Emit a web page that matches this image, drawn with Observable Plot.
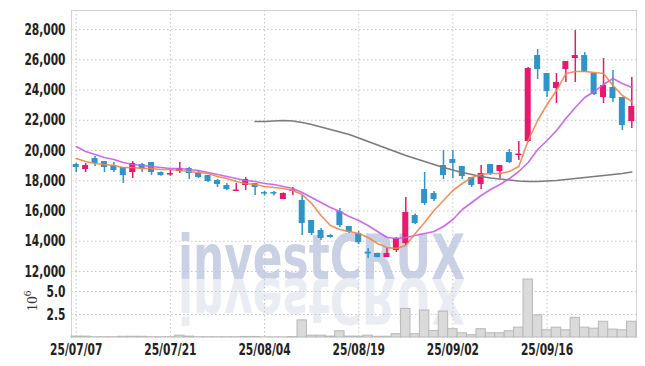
<!DOCTYPE html>
<html><head><meta charset="utf-8">
<script src="https://cdn.jsdelivr.net/npm/d3@7"></script>
<script src="https://cdn.jsdelivr.net/npm/@observablehq/plot@0.6"></script>
<style>
body{margin:0;background:#fff;}
#wrap{position:relative;width:645px;height:366px;}
#wrap svg{position:absolute;left:0;top:0;}
</style></head><body><div id="wrap"></div>
<script>
const dates = ["25/07/07","25/07/08","25/07/09","25/07/10","25/07/11","25/07/14","25/07/15","25/07/16","25/07/17","25/07/18",
"25/07/21","25/07/22","25/07/23","25/07/24","25/07/25","25/07/28","25/07/29","25/07/30","25/07/31","25/08/01",
"25/08/04","25/08/05","25/08/06","25/08/07","25/08/08","25/08/11","25/08/12","25/08/13","25/08/14","25/08/18",
"25/08/19","25/08/20","25/08/21","25/08/22","25/08/25","25/08/26","25/08/27","25/08/28","25/08/29","25/09/01",
"25/09/02","25/09/03","25/09/04","25/09/05","25/09/08","25/09/09","25/09/10","25/09/11","25/09/12","25/09/15",
"25/09/16","25/09/17","25/09/18","25/09/19","25/09/22","25/09/23","25/09/24","25/09/25","25/09/26","25/09/29"];
const opens = [19075,18744,19472,19273,19009,18876,18546,19075,19207,18546,18380,18612,18810,18480,18348,18017,17686,17290,17686,17819,
17220,17220,16761,17290,16695,15372,14711,14380,15967,14975,14513,13280,13190,12926,13389,13851,15703,17422,17157,19009,
19405,18943,18215,17752,19075,18612,19868,19670,20596,26282,25092,24100,25356,26084,26282,25092,23505,24166,23505,21918];
const highs = [19141,19141,19604,19273,19207,18876,19273,19141,19207,18580,18750,19207,18876,18678,18348,18083,17819,17819,18215,17819,
17290,17290,17200,17554,17025,15372,14843,14450,16166,14975,14645,13521,13220,13521,14248,16893,15800,18546,17290,20000,
20000,18943,18215,19009,19075,19009,20067,20596,25488,26679,25092,25092,25885,27934,26480,25092,26084,25290,23505,24827];
const lows = [18546,18546,18943,18546,18546,17819,18149,18546,18348,18300,18300,18480,18083,18149,17885,17554,17356,17290,17356,17025,
16990,16990,16761,17025,14380,14380,14050,14200,14909,14513,13785,12860,12900,12926,13256,13719,15100,16364,16628,18083,
18149,18083,17554,17422,18348,18149,19141,19339,20529,24695,23505,23108,24497,24497,25158,23637,23108,23174,21323,21455];
const closes = [18876,19009,19141,18876,18678,18348,19141,18810,18546,18348,18480,18810,18480,18215,17951,17752,17422,17390,18083,17554,
17120,17120,17157,17390,15174,14513,14182,14250,15042,14579,13917,13160,12926,13190,14182,15901,15174,16496,16761,18348,
19141,18281,17686,18480,18480,19009,19207,19770,25422,25356,23902,24497,25885,26282,25158,23703,24298,23439,21654,22910];
const volumes = [0.1,0.1,0.03,0.03,0.03,0.08,0.08,0.08,0.03,0.03,0.03,0.2,0.1,0.03,0.03,0.03,0.03,0.03,0.06,0.06,
0.02,0.02,0.02,0.05,1.86,0.2,0.2,0.1,0.68,0.1,0.1,0.2,0.08,0.08,0.36,3.1,0.36,2.93,0.7,2.82,
0.9,0.46,0.25,0.9,0.46,0.46,0.68,1.07,6.3,2.4,0.79,1.07,0.79,2.14,1.07,0.96,1.71,0.86,0.79,1.71];
const ma5 = [19472,19273,19141,19075,19009,18876,18876,18810,18810,18744,18744,18678,18612,18546,18480,18281,18149,17951,17819,17752,
17620,17554,17488,17356,17091,16496,15703,15042,14777,14645,14513,14248,13851,13587,13521,13719,14513,15240,16033,16695,
17356,17819,18215,18414,18480,18480,18612,18943,20662,21984,23042,23968,25092,25224,25224,25158,25092,24298,23637,23240];
const ma20 = [20265,19934,19736,19538,19405,19207,19075,19009,18943,18876,18810,18810,18744,18678,18546,18414,18281,18149,18017,17951,
17819,17752,17620,17488,17223,16893,16562,16232,15967,15637,15372,15042,14645,14248,14182,14248,14380,14513,14645,14975,
15438,16100,16562,17025,17422,17752,18149,18612,19207,20067,20662,21323,22116,22844,23505,23902,24365,24761,24431,24166];
const ma60 = [null,null,null,null,null,null,null,null,null,null,null,null,null,null,null,null,null,null,null,21918,
21918,21951,21984,21951,21852,21720,21554,21389,21224,21058,20827,20596,20364,20133,19901,19670,19472,19273,19075,18876,
18711,18546,18414,18281,18182,18116,18050,17984,17951,17951,17984,18017,18083,18149,18215,18281,18348,18414,18480,18579];
const xTicks = ["25/07/07","25/07/21","25/08/04","25/08/19","25/09/02","25/09/16"];
const priceTicks = [12000,14000,16000,18000,20000,22000,24000,26000,28000];
const volTicks = [2.5,5.0];

const rows = dates.map((d,i)=>({date:d, open:opens[i], high:highs[i], low:lows[i], close:closes[i],
  vol:volumes[i], ma5:ma5[i], ma20:ma20[i], ma60:ma60[i]}));
const RED = "#e8186c", BLUE = "#2f94c9";
const colorOf = d => d.close >= d.open ? RED : BLUE;
const FONT = "'DejaVu Sans Condensed','DejaVu Sans',sans-serif";
const GRID = "#c4c4cc", FRAME = "#d2d2d8";
const dash = "1.5,2.5";
const common = {width:645, height:366, marginLeft:71, marginRight:9,
  style:{fontFamily:FONT, fontSize:"16px", background:"transparent", overflow:"visible"},
  color:{type:"identity"}};
const xScale = {type:"band", domain:dates, padding:0, round:false, axis:null};

const wrap = document.getElementById("wrap");

// watermark
const wm = d3.create("svg").attr("width",645).attr("height",366);
wm.append("text").attr("x",178).attr("y",279).attr("textLength",287).attr("lengthAdjust","spacingAndGlyphs")
  .attr("font-family","DejaVu Sans").attr("font-weight","bold").attr("font-size",62)
  .attr("fill","#cbd1e4").text("investCRUX");
wm.append("text").attr("x",178).attr("y",279).attr("textLength",287).attr("lengthAdjust","spacingAndGlyphs")
  .attr("transform","translate(0,558) scale(1,-1)")
  .attr("font-family","DejaVu Sans").attr("font-weight","bold").attr("font-size",62)
  .attr("fill","#eaecf3").text("investCRUX");
wrap.appendChild(wm.node());

const price = Plot.plot({...common, marginTop:10, marginBottom:95,
  x:xScale,
  y:{domain:[12000,29260], axis:null},
  marks:[
    Plot.gridY(priceTicks, {stroke:GRID, strokeOpacity:1, strokeDasharray:dash}),
    Plot.gridX(xTicks, {stroke:GRID, strokeOpacity:1, strokeDasharray:dash}),
    Plot.frame({anchor:"top", stroke:FRAME}),
    Plot.frame({anchor:"left", stroke:FRAME}),
    Plot.frame({anchor:"right", stroke:FRAME}),
    Plot.axisY(priceTicks, {label:null, tickSize:0, tickPadding:6, tickFormat:d3.format(","), fill:"#222", fontWeight:"bold"}),
    Plot.ruleX(rows, {x:"date", y1:"low", y2:"high", stroke:colorOf, strokeWidth:1.5}),
    Plot.barY(rows, {x:"date", y1:"open", y2:"close", fill:colorOf, insetLeft:1.7, insetRight:1.7}),
    Plot.line(rows, {x:"date", y:"ma60", stroke:"#7b7b7b", strokeWidth:1.7}),
    Plot.line(rows, {x:"date", y:"ma20", stroke:"#c95bea", strokeWidth:1.6, strokeOpacity:0.9}),
    Plot.line(rows, {x:"date", y:"ma5", stroke:"#ef8548", strokeWidth:1.6, strokeOpacity:0.9})
  ]
});
wrap.appendChild(price);

const vol = Plot.plot({...common, marginTop:271, marginBottom:29,
  x:xScale,
  y:{domain:[0,7.17], axis:null},
  marks:[
    Plot.gridY(volTicks, {stroke:GRID, strokeOpacity:1, strokeDasharray:dash}),
    Plot.gridX(xTicks, {stroke:GRID, strokeOpacity:1, strokeDasharray:dash}),
    Plot.frame({anchor:"left", stroke:FRAME}),
    Plot.frame({anchor:"right", stroke:FRAME}),
    Plot.axisY(volTicks, {label:null, tickSize:0, tickPadding:6, tickFormat:d3.format(".1f"), fill:"#222", fontWeight:"bold"}),
    Plot.barY(rows, {x:"date", y:"vol", fill:"#dadada", stroke:"#b8b8b8", strokeWidth:1}),
    Plot.axisX(xTicks, {label:null, tickSize:0, tickPadding:6, fill:"#222", fontWeight:"bold"})
  ]
});
wrap.appendChild(vol);

// volume unit label (10^6), rotated
const unit = d3.select(vol).append("text")
  .attr("transform","translate(37,301) rotate(-90)")
  .attr("text-anchor","middle")
  .attr("font-family","'Liberation Serif','DejaVu Serif',serif")
  .attr("font-size",15).attr("fill","#333");
unit.append("tspan").text("10");
unit.append("tspan").attr("dy",-6).attr("font-size",11).text("6");

// condense tick labels to match the narrow face of the original
for (const svg of [price, vol]) {
  d3.select(svg).selectAll('g[aria-label$="tick label"] text').each(function() {
    const w = this.getComputedTextLength();
    this.setAttribute("textLength", (w * 0.74).toFixed(1));
    this.setAttribute("lengthAdjust", "spacingAndGlyphs");
  });
}
</script></body></html>
